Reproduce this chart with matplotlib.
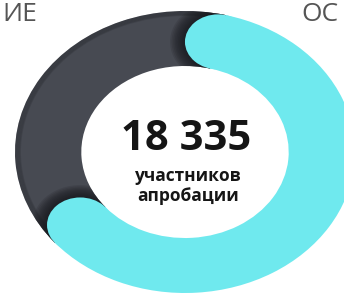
import matplotlib
matplotlib.use("Agg")
import matplotlib.pyplot as plt
from matplotlib.patches import Ellipse
import numpy as np

# Data
labels = ["участники (основная часть)", "остальные"]
values = [60.0, 40.0]
total_text = "18 335"
sub_lines = ["участников", "апробации"]
top_left_text = "ИЕ"
top_right_text = "ОС"

cyan = "#6FE9EE"
dark = "#474a52"

plt.rcParams['font.family'] = ['Open Sans', 'DejaVu Sans']

W, H = 344, 302
fig = plt.figure(figsize=(W / 100, H / 100), dpi=100)
fig.patch.set_facecolor("white")
ax = fig.add_axes([0, 0, 1, 1])

cx, cy = 185, 152
rx, ry = 170, 141
ring_w = 0.39

wedges, _ = ax.pie(values, colors=[cyan, dark], startangle=76, counterclock=False,
                   radius=1.0, wedgeprops=dict(width=ring_w, linewidth=0))
ax.set_aspect('auto')
ax.set_xlim(-cx / rx, (W - cx) / rx)
ax.set_ylim(-(H - cy) / ry, cy / ry)
ax.axis('off')

wedges[0].set_zorder(3)
wedges[1].set_zorder(1)

# soft dark rim on the outer edge of the dark ring
for k in range(6):
    rim = Ellipse((0, 0), 2.0 - k * 0.012, 2.0 - k * 0.012, fill=False,
                  edgecolor="#1a1c20", lw=1.2, alpha=0.18, zorder=2)
    rim.set_clip_path(wedges[1])
    ax.add_patch(rim)

# Round caps on the cyan arc, with a soft shadow on the dark ring
mid = 1.0 - ring_w / 2
for ang in (wedges[0].theta1, wedges[0].theta2):
    a = np.deg2rad(ang)
    x, y = mid * np.cos(a), mid * np.sin(a)
    for s in np.linspace(1.45, 1.02, 10):
        sh = Ellipse((x, y), ring_w * s, ring_w * s, color="#16181c", alpha=0.14,
                     lw=0, zorder=2)
        sh.set_clip_path(wedges[1])
        ax.add_patch(sh)
    cap = Ellipse((x, y), ring_w, ring_w, color=cyan, lw=0, zorder=4)
    ax.add_patch(cap)

# Center text
fig.text(186 / W, 1 - 139 / H, total_text, ha='center', va='center',
         fontsize=30, fontweight='bold', color="#151515")
fig.text(188 / W, 1 - 176 / H, sub_lines[0], ha='center', va='center',
         fontsize=12.5, fontweight='bold', color="#151515")
fig.text(188 / W, 1 - 196 / H, sub_lines[1], ha='center', va='center',
         fontsize=12.5, fontweight='bold', color="#151515")

# Cropped headings at the top
fig.text(2 / W, 1 - 21 / H, top_left_text, ha='left', va='baseline',
         fontsize=19, color="#555555")
fig.text(301 / W, 1 - 21 / H, top_right_text, ha='left', va='baseline',
         fontsize=19, color="#555555")

fig.savefig("out.png", dpi=100, facecolor="white")
